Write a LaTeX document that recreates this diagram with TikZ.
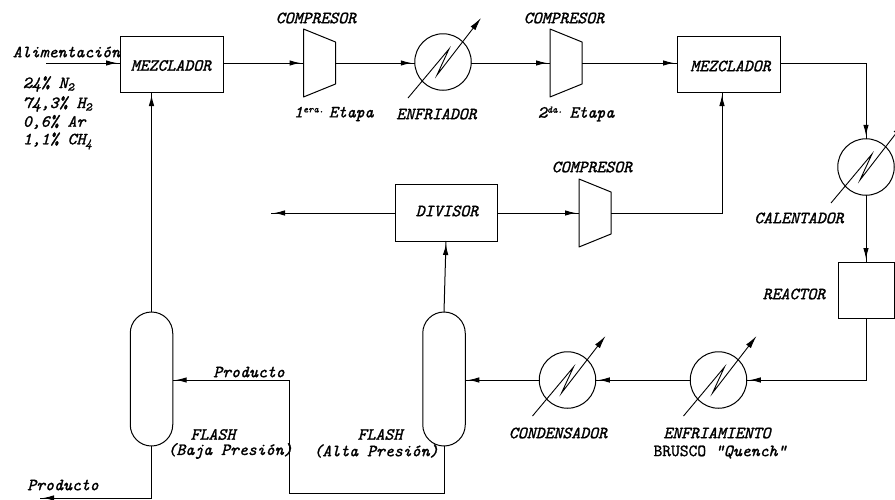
\documentclass[tikz,border=0pt]{standalone}
\usepackage{fontspec}
\newfontfamily\labf{Latin Modern Mono}[ItalicFeatures={FakeBold=1.4},UprightFeatures={FakeBold=1.4}]
\usetikzlibrary{arrows.meta,decorations.markings,calc}
\newcommand{\supr}[1]{\raisebox{5pt}{\fontsize{10}{10}\labf\itshape #1}}
\tikzset{
  x=1pt,y=-1pt,
  every node/.style={inner sep=0pt,outer sep=0pt},
  lab/.style={font=\fontsize{17}{18}\labf\itshape,align=center},
  boxn/.style={draw=black,line width=1pt,rectangle,minimum width=103pt,minimum height=56pt},
  vessel/.style={draw=black,line width=1pt},
  hx/.style={draw=black,line width=1pt,circle,minimum size=56.5pt},
  comp/.style={rectangle,minimum width=32pt,minimum height=42pt},
  flow/.style={line width=1pt,postaction={decorate},decoration={markings,
     mark=at position -3pt with {\arrow{Latex[length=11pt,width=5.5pt]}}}},
  thin1/.style={line width=.9pt},
}
\newcommand{\hxsym}[1]{%
  \draw[thin1,line join=miter,-{Latex[length=13pt,width=6pt]}] ($(#1)+(-35,36)$) -- ($(#1)+(6,-13)$) -- ($(#1)+(-6,13)$) -- ($(#1)+(38,-44)$);
}
\newcommand{\compsym}[1]{%
  \draw[vessel,line join=round] ($(#1)+(-16,-34)$) -- ($(#1)+(16,-21)$) -- ($(#1)+(16,21)$) -- ($(#1)+(-16,34)$) -- cycle;
}
\newcommand{\vesselsym}[1]{%
  \draw[vessel] ($(#1.south west)+(0,-21.25)$) arc[start angle=180,end angle=0,radius=21.25] -- ++(0,-91.5) arc[start angle=0,end angle=-180,radius=21.25] -- cycle;
}
\begin{document}
\begin{tikzpicture}
\useasboundingbox (0,0) rectangle (895,499);
\node[boxn] (m1) at (171.5,64) {};
\node[boxn] (m2) at (728.5,64) {};
\node[boxn,minimum width=102pt,minimum height=57pt] (div) at (446,212.5) {};
\node[draw=black,line width=1pt,minimum size=56pt] (reac) at (866,290) {};
\node[comp] (c1) at (319.5,63) {}; \compsym{c1}
\node[comp] (c2) at (566,63) {}; \compsym{c2}
\node[comp] (c3) at (595,213) {}; \compsym{c3}
\node[hx] (e1) at (443,62) {}; \hxsym{e1}
\node[hx] (e2) at (866,167) {}; \hxsym{e2}
\node[hx] (e3) at (718.5,380) {}; \hxsym{e3}
\node[hx] (e4) at (567.5,380) {}; \hxsym{e4}
\node[minimum width=42.5pt,minimum height=134pt] (fb) at (151.5,379) {}; \vesselsym{fb}
\node[minimum width=42.5pt,minimum height=134pt] (fa) at (444,379) {}; \vesselsym{fa}
\coordinate (feed) at (46,63);
\coordinate (purge) at (271,213);
\coordinate (prodout) at (40,498);
\coordinate (a1) at (866,63);
\coordinate (a2) at (722,213);
\coordinate (a3) at (866,380);
\coordinate (a4) at (151.5,498);
\coordinate (a5) at (444,493);
\coordinate (a6) at (289,493);
\coordinate (a7) at (289,380);
\coordinate (a8) at (172.7,380);
\draw[flow] (feed) -- (m1.west |- feed);
\draw[flow] (m1.east |- c1.west) -- (c1.west);
\draw[flow] (c1.east) -- (e1.west |- c1.east);
\draw[flow] (e1.east |- c1.east) -- (c2.west);
\draw[flow] (c2.east) -- (m2.west |- c2.east);
\draw[flow] (m2.east |- a1) -- (a1) -- (e2.north);
\draw[flow] (e2.south) -- (reac.north);
\draw[flow] (reac.south) -- (a3) -- (e3.east);
\draw[flow] (e3.west) -- (e4.east);
\draw[flow] (e4.west) -- (fa.east |- e4.west);
\draw[flow] (fa.north) -- (div.south);
\draw[flow] (div.east |- c3.west) -- (c3.west);
\draw[flow] (c3.east) -- (a2) -- (a2 |- m2.south);
\draw[flow] (div.west |- purge) -- (purge);
\draw[flow] (fa.south) -- (a5) -- (a6) -- (a7) -- (a8);
\draw[flow] (fb.north) -- (fb.north |- m1.south);
\draw[flow] (fb.south) -- (a4) -- (prodout);
\node[lab] (t1) at (66.5,52) {Alimentación};
\node[lab,anchor=west] (t2) at (23,84) {24\% N\textsubscript{2}};
\node[lab,anchor=west] (t3) at (23,104) {74,3\% H\textsubscript{2}};
\node[lab,anchor=west] (t4) at (23,122) {0,6\% Ar};
\node[lab,anchor=west] (t5) at (23,141) {1,1\% CH\textsubscript{4}};
\node[lab] (t6) at (171,65.5) {MEZCLADOR};
\node[lab] (t7) at (730.5,66) {MEZCLADOR};
\node[lab] (t8) at (316,18) {COMPRESOR};
\node[lab] (t9) at (564,18) {COMPRESOR};
\node[lab] (t10) at (592,167) {COMPRESOR};
\node[lab,anchor=west] (t11) at (294,114) {1\supr{era.}\hspace{5pt}Etapa};
\node[lab,anchor=west] (t12) at (538,114) {2\supr{da.}\hspace{7pt}Etapa};
\node[lab] (t13) at (436.5,114) {ENFRIADOR};
\node[lab] (t14) at (447,211) {DIVISOR};
\node[lab] (t15) at (799,218) {CALENTADOR};
\node[lab] (t16) at (794,294) {REACTOR};
\node[lab] (t17) at (249,372) {Producto};
\node[lab] (t18) at (63,485) {Producto};
\node[lab] (t19) at (213,434.5) {FLASH};
\node[lab] (t20) at (230,451) {(Baja Presión)};
\node[lab] (t21) at (380,434.5) {FLASH};
\node[lab] (t22) at (376,451) {(Alta Presión)};
\node[lab] (t23) at (558,433) {CONDENSADOR};
\node[lab] (t24) at (717,433) {ENFRIAMIENTO};
\node[lab] (t25) at (720,452) {{\upshape BRUSCO} "Quench"};
\end{tikzpicture}
\end{document}
